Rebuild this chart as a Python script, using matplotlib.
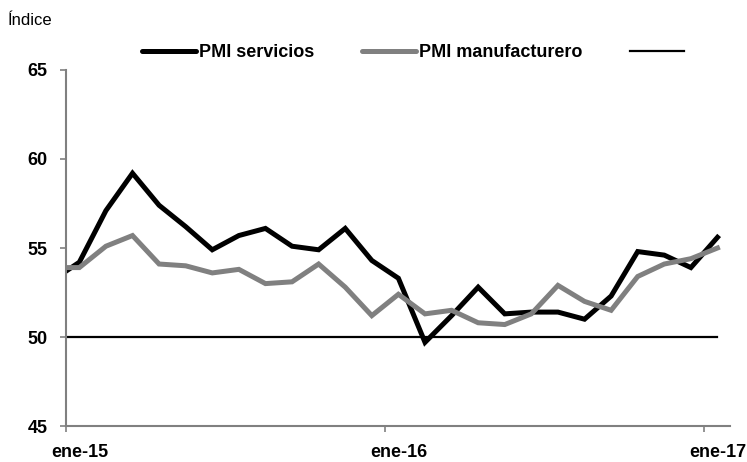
import matplotlib
matplotlib.use("Agg")
import matplotlib.pyplot as plt
from matplotlib.lines import Line2D

plt.rcParams["font.family"] = ["Liberation Sans Narrow", "Liberation Sans", "DejaVu Sans"]

# meses desde dic-14 (-1) hasta ene-17 (24)
months = list(range(-1, 25))
pmi_servicios = [53.2, 54.2, 57.1, 59.2, 57.4, 56.2, 54.9, 55.7, 56.1, 55.1, 54.9, 56.1, 54.3,
                 53.3, 49.7, 51.2, 52.8, 51.3, 51.4, 51.4, 51.0, 52.3, 54.8, 54.6, 53.9, 55.6]
pmi_manuf = [53.9, 53.9, 55.1, 55.7, 54.1, 54.0, 53.6, 53.8, 53.0, 53.1, 54.1, 52.8, 51.2,
             52.4, 51.3, 51.5, 50.8, 50.7, 51.3, 52.9, 52.0, 51.5, 53.4, 54.1, 54.4, 55.0]
umbral = [50.0] * len(months)

tick_pos = [-0.5, 11.5, 23.5]
label_pos = [0, 12, 24]
tick_labels = ["ene-15", "ene-16", "ene-17"]

gray = "#808080"

fig = plt.figure(figsize=(7.47, 4.62), dpi=100)
ax = fig.add_axes([0.0884, 0.0779, 0.8888, 0.7706])

l1, = ax.plot(months, pmi_servicios, color="black", lw=3.6, solid_joinstyle="miter")
l2, = ax.plot(months, pmi_manuf, color=gray, lw=3.6, solid_joinstyle="miter")
l3, = ax.plot(months, umbral, color="black", lw=1.6)

ax.set_xlim(-0.5, 24.47)
ax.set_ylim(45, 65)
ax.set_yticks([45, 50, 55, 60, 65])

ax.set_xticks(tick_pos)
ax.set_xticklabels([])
ax.set_xticks(label_pos, minor=True)
ax.set_xticklabels(tick_labels, minor=True)
ax.tick_params(axis="x", which="major", direction="out", length=4.5, width=1.2, color=gray)
ax.tick_params(axis="x", which="minor", length=0, pad=13, labelsize=13)
ax.tick_params(axis="y", direction="out", length=4.5, width=1.2, color=gray, pad=9, labelsize=13)
for lab in ax.get_xticklabels(minor=True) + ax.get_yticklabels():
    lab.set_fontweight("bold")

for s in ["top", "right"]:
    ax.spines[s].set_visible(False)
for s in ["left", "bottom"]:
    ax.spines[s].set_color(gray)
    ax.spines[s].set_linewidth(1.5)

fig.text(0.010, 0.946, "Índice", fontsize=12)

handles = [Line2D([], [], color="black", lw=3.6, solid_capstyle="round"),
           Line2D([], [], color=gray, lw=3.6, solid_capstyle="round"),
           Line2D([], [], color="black", lw=1.6)]
leg = fig.legend(handles, ["PMI servicios", "PMI manufacturero", ""], ncol=3,
                 loc="center", bbox_to_anchor=(0.555, 0.886), frameon=False,
                 prop={"size": 13, "weight": "bold"}, handlelength=3.0,
                 handletextpad=0.2, columnspacing=2.6)

fig.savefig("out.png", dpi=100)
